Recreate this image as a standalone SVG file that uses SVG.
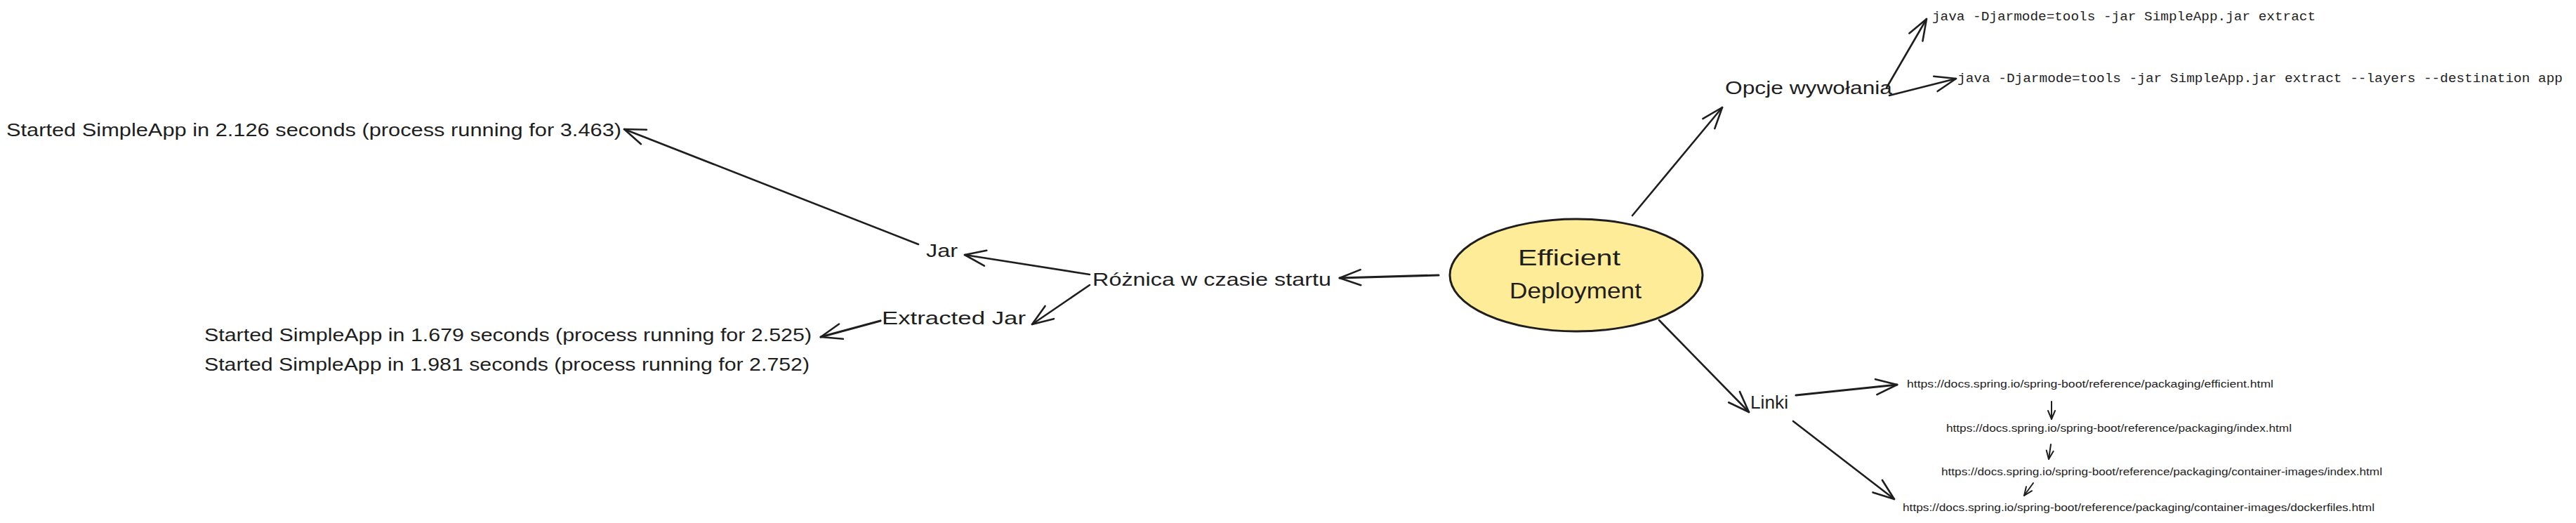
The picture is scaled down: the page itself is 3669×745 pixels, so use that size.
<svg xmlns="http://www.w3.org/2000/svg" width="3669" height="745" viewBox="0 0 3669 745">
<style>
.t{font-family:"Liberation Sans",Arial,sans-serif;fill:#1e1e1e}
.lbl{font-size:26px}
.big{font-size:32px}
.mono{font-family:"Liberation Mono","DejaVu Sans Mono",monospace;font-size:19px;fill:#1e1e1e}
.url{font-size:15px}
.c{fill:none;stroke:#1e1e1e;stroke-width:2.6;stroke-linecap:round}
.cs{fill:none;stroke:#1e1e1e;stroke-width:2;stroke-linecap:round}
</style>
<defs>
<marker id="ah" viewBox="-32 -14 34 28" refX="0" refY="0" markerWidth="34" markerHeight="28" orient="auto" markerUnits="userSpaceOnUse">
<path d="M-30,-11 L0,0 L-30,11" fill="none" stroke="#1e1e1e" stroke-width="2.6" stroke-linecap="round" stroke-linejoin="round"/>
</marker>
<marker id="ahs" viewBox="-14 -7 16 14" refX="0" refY="0" markerWidth="16" markerHeight="14" orient="auto" markerUnits="userSpaceOnUse">
<path d="M-12,-5 L0,0 L-12,5" fill="none" stroke="#1e1e1e" stroke-width="2" stroke-linecap="round" stroke-linejoin="round"/>
</marker>
</defs>
<rect width="3669" height="745" fill="#ffffff"/>
<g id="connectors">
<line class="c" x1="2325" y1="307" x2="2453" y2="153" marker-end="url(#ah)"/>
<line class="c" x1="2687" y1="125" x2="2744" y2="27" marker-end="url(#ah)"/>
<line class="c" x1="2691" y1="136" x2="2786" y2="112" marker-end="url(#ah)"/>
<line class="c" x1="2049" y1="392" x2="1908" y2="396" marker-end="url(#ah)" style="stroke-width:3.2"/>
<line class="c" x1="1552" y1="391" x2="1374" y2="363" marker-end="url(#ah)"/>
<line class="c" x1="1552" y1="406" x2="1470" y2="462" marker-end="url(#ah)"/>
<line class="c" x1="1308" y1="348" x2="889" y2="184" marker-end="url(#ah)"/>
<line class="c" x1="1254" y1="457" x2="1169" y2="480" marker-end="url(#ah)" style="stroke-width:3.2"/>
<line class="c" x1="2363" y1="456" x2="2491" y2="587" marker-end="url(#ah)"/>
<line class="c" x1="2558" y1="563" x2="2702" y2="548" marker-end="url(#ah)" style="stroke-width:3.2"/>
<line class="c" x1="2554" y1="600" x2="2698" y2="711" marker-end="url(#ah)"/>
<line class="cs" x1="2922" y1="572" x2="2922" y2="597" marker-end="url(#ahs)"/>
<line class="cs" x1="2921" y1="633" x2="2918" y2="654" marker-end="url(#ahs)"/>
<line class="cs" x1="2896" y1="688" x2="2883" y2="706" marker-end="url(#ahs)"/>
</g>
<g id="n-root">
<ellipse cx="2245" cy="392" rx="180" ry="80" fill="#ffec99" stroke="#1e1e1e" stroke-width="3"/>
<text class="t big" x="2235" y="378" text-anchor="middle" textLength="146" lengthAdjust="spacingAndGlyphs">Efficient</text>
<text class="t big" x="2244" y="425" text-anchor="middle" textLength="188" lengthAdjust="spacingAndGlyphs">Deployment</text>
</g>
<g id="n-opcje"><text class="t lbl" x="2457" y="134" textLength="238" lengthAdjust="spacingAndGlyphs">Opcje wywołania</text></g>
<g id="n-java1"><text class="mono" x="2752" y="29" textLength="546" lengthAdjust="spacingAndGlyphs">java -Djarmode=tools -jar SimpleApp.jar extract</text></g>
<g id="n-java2"><text class="mono" x="2788" y="117" textLength="862" lengthAdjust="spacingAndGlyphs">java -Djarmode=tools -jar SimpleApp.jar extract --layers --destination app</text></g>
<g id="n-roznica"><text class="t lbl" x="1556" y="407" textLength="340" lengthAdjust="spacingAndGlyphs">Różnica w czasie startu</text></g>
<g id="n-jar"><text class="t lbl" x="1319" y="366" textLength="45" lengthAdjust="spacingAndGlyphs">Jar</text></g>
<g id="n-extracted"><text class="t lbl" x="1256" y="462" textLength="205" lengthAdjust="spacingAndGlyphs">Extracted Jar</text></g>
<g id="n-s1"><text class="t lbl" x="9" y="194" textLength="876" lengthAdjust="spacingAndGlyphs">Started SimpleApp in 2.126 seconds (process running for 3.463)</text></g>
<g id="n-s2">
<text class="t lbl" x="291" y="486" textLength="865" lengthAdjust="spacingAndGlyphs">Started SimpleApp in 1.679 seconds (process running for 2.525)</text>
<text class="t lbl" x="291" y="528" textLength="862" lengthAdjust="spacingAndGlyphs">Started SimpleApp in 1.981 seconds (process running for 2.752)</text>
</g>
<g id="n-linki"><text class="t lbl" x="2493" y="582" textLength="54" lengthAdjust="spacingAndGlyphs">Linki</text></g>
<g id="n-url1"><text class="t url" x="2716" y="552" textLength="522" lengthAdjust="spacingAndGlyphs">https://docs.spring.io/spring-boot/reference/packaging/efficient.html</text></g>
<g id="n-url2"><text class="t url" x="2772" y="615" textLength="492" lengthAdjust="spacingAndGlyphs">https://docs.spring.io/spring-boot/reference/packaging/index.html</text></g>
<g id="n-url3"><text class="t url" x="2765" y="677" textLength="628" lengthAdjust="spacingAndGlyphs">https://docs.spring.io/spring-boot/reference/packaging/container-images/index.html</text></g>
<g id="n-url4"><text class="t url" x="2710" y="728" textLength="672" lengthAdjust="spacingAndGlyphs">https://docs.spring.io/spring-boot/reference/packaging/container-images/dockerfiles.html</text></g>
</svg>
